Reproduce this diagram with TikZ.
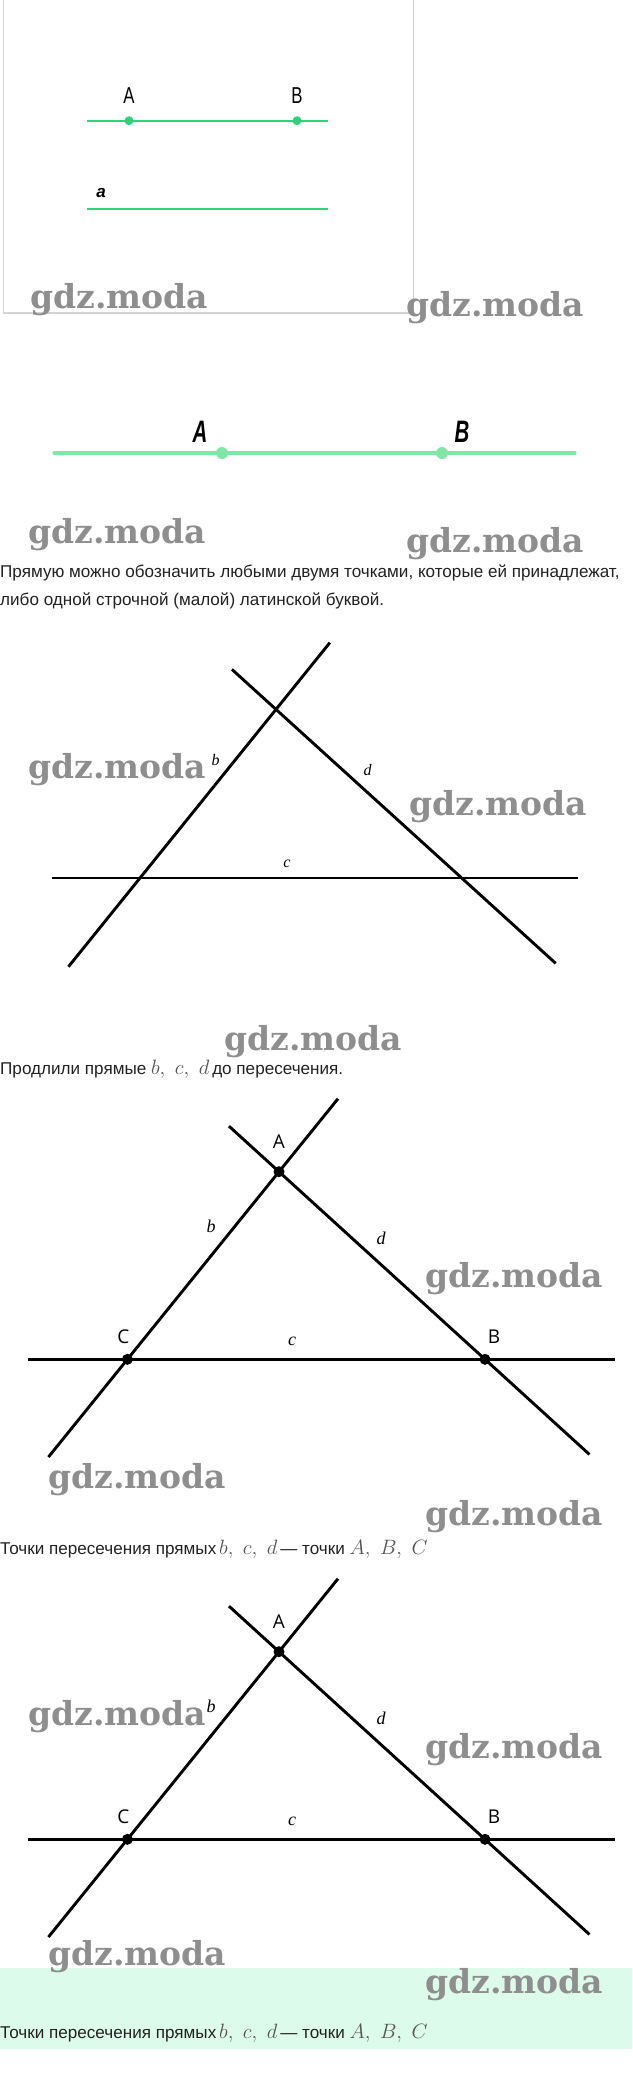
\documentclass[tikz,border=0pt]{standalone}
\usepackage{fontspec}
\setmainfont{Liberation Sans}
\newfontfamily\narrowfont[FakeStretch=0.73]{Liberation Sans}
\newfontfamily\narrowbifont[FakeStretch=0.66]{Liberation Sans Bold Italic}
\newfontfamily\serifitfont{Liberation Serif Italic}
\newfontfamily\ptfont{Open Sans}
\newfontfamily\wmfont{DejaVu Serif Bold}
\usetikzlibrary{positioning}
\usetikzlibrary{calc}

\definecolor{lineGreen}{HTML}{2ED47B}
\definecolor{paleGreen}{HTML}{7FE6A6}
\definecolor{bandGreen}{HTML}{DDFBEA}
\definecolor{wmGray}{HTML}{8E8E8E}
\definecolor{frameGray}{HTML}{D4D4D4}
\definecolor{textGray}{HTML}{222222}
\definecolor{mathGray}{HTML}{555555}

\begin{document}
\begin{tikzpicture}[x=1pt, y=-1pt,
    greenline/.style={draw=lineGreen, line width=2.4pt},
    paleline/.style={draw=paleGreen, line width=3.2pt, line cap=round},
    blackline/.style={draw=black, line width=2.9pt},
    greendot/.style={circle, fill=lineGreen, inner sep=0pt, minimum size=9pt},
    paledot/.style={circle, fill=paleGreen, inner sep=0pt, minimum size=12pt},
    blackdot/.style={circle, fill=black, inner sep=0pt, minimum size=11pt},
    narrowlabel/.style={inner sep=0pt, font=\narrowfont\fontsize{23}{23}\selectfont},
    bilabel/.style={inner sep=0pt, anchor=base, font=\narrowbifont\fontsize{31}{31}\selectfont},
    ptlabel/.style={inner sep=0pt, font=\ptfont\fontsize{19}{19}\selectfont},
    linelabel/.style={inner sep=0pt, font=\serifitfont\fontsize{16}{16}\selectfont},
    caption/.style={inner sep=0pt, anchor=base west, text=textGray, font=\fontsize{17.1}{17.1}\selectfont},
    wmark/.style={inner sep=0pt, anchor=base west, text=wmGray, font=\wmfont\fontsize{33}{33}\selectfont},
  ]
  \useasboundingbox (0,0) rectangle (632,2085);
  \fill[white] (0,0) rectangle (632,2085);
  \fill[bandGreen] (0,1968) rectangle (632,2049);

  %Frame
  \draw[frameGray, line width=1pt] (3,0) -- (3,313) (413,313) -- (413,0);
  \draw[frameGray, line width=2.5pt] (3,313) -- (413,313);

  %Nodes (first picture)
  \node[greendot] (A1) at (129,120.7) {};
  \node[greendot] (B1) at (297,120.7) {};
  \node[narrowlabel] (labA1) [above=12.5pt of A1] {A};
  \node[narrowlabel] (labB1) [above=12.5pt of B1] {B};
  \coordinate (ab1L) at (87,120.7);
  \coordinate (ab1R) at (328,120.7);
  \coordinate (a1L) at (87,209);
  \coordinate (a1R) at (328,209);
  \node[inner sep=0pt, font=\bfseries\itshape\fontsize{17}{17}\selectfont] (laba) at (101,193) {a};

  %Lines (first picture)
  \draw[greenline] (ab1L) -- (ab1R);
  \draw[greenline] (a1L) -- (a1R);

  %Nodes (second picture)
  \node[paledot] (A2) at (222,453) {};
  \node[paledot] (B2) at (442,453) {};
  \node[bilabel] (labA2) at (200,442) {A};
  \node[bilabel] (labB2) at (462,442) {B};
  \coordinate (ab2L) at (54,453);
  \coordinate (ab2R) at (575,453);

  %Lines (second picture)
  \draw[paleline] (ab2L) -- (ab2R);

  \node[caption] (cap2a) at (0,577) {Прямую можно обозначить любыми двумя точками, которые ей принадлежат,};
  \node[caption] (cap2b) at (0,605) {либо одной строчной (малой) латинской буквой.};

  %Nodes (third picture)
  \coordinate (P) at (276,709.4);
  \coordinate (Q) at (140,878);
  \coordinate (R) at (461.7,878);
  \node[linelabel] (labb3) at (215.7,760) {b};
  \node[linelabel] (labd3) at (367.7,770) {d};
  \node[linelabel] (labc3) at (287,864) {c};

  %Lines (third picture)
  \draw[blackline] ($(Q)!-0.526!(P)$) -- ($(P)!-0.396!(Q)$);
  \draw[blackline] ($(P)!-0.2375!(R)$) -- ($(R)!-0.506!(P)$);
  \draw[blackline] ($(Q)!-0.275!(R)$) -- ($(R)!-0.363!(Q)$);

  \node[caption] (cap3) at (0,1074) {Продлили прямые {\color{mathGray}\fontsize{22}{22}\selectfont$b,\ c,\ d$}\,до пересечения.};

  %Nodes and lines (fourth and fifth picture)
  \foreach \dy/\n in {0/4, 480/5} {
    \begin{scope}[shift={(0,\dy)}]
      \node[blackdot] (A\n) at (279,1171.7) {};
      \node[blackdot] (B\n) at (485,1359.3) {};
      \node[blackdot] (C\n) at (127.4,1359.3) {};
      \node[ptlabel] (labA\n) [above=17pt of A\n] {A};
      \node[ptlabel] (labB\n) [above=10pt of B\n, xshift=9pt] {B};
      \node[ptlabel] (labC\n) [above=10pt of C\n, xshift=-4pt] {C};
      \node[linelabel, font=\serifitfont\fontsize{18}{18}\selectfont] (labb\n) at (211,1226.7) {b};
      \node[linelabel, font=\serifitfont\fontsize{18}{18}\selectfont] (labd\n) at (381,1238.3) {d};
      \node[linelabel, font=\serifitfont\fontsize{18}{18}\selectfont] (labc\n) at (292,1341.7) {c};
      \draw[blackline] ($(C\n)!-0.521!(A\n)$) -- ($(A\n)!-0.389!(C\n)$);
      \draw[blackline] ($(A\n)!-0.243!(B\n)$) -- ($(B\n)!-0.507!(A\n)$);
      \draw[blackline] ($(C\n)!-0.277!(B\n)$) -- ($(B\n)!-0.364!(C\n)$);
    \end{scope}
  }

  \node[caption] (cap4) at (0,1554) {Точки пересечения прямых\,{\color{mathGray}\fontsize{22}{22}\selectfont$b,\ c,\ d$}\,— точки {\color{mathGray}\fontsize{22}{22}\selectfont$A,\ B,\ C$}};
  \node[caption] (cap5) at (0,2038) {Точки пересечения прямых\,{\color{mathGray}\fontsize{22}{22}\selectfont$b,\ c,\ d$}\,— точки {\color{mathGray}\fontsize{22}{22}\selectfont$A,\ B,\ C$}};

  %Watermarks
  \node[wmark] (wm1) at (30,308) {gdz.moda};
  \node[wmark] (wm2) at (406,316) {gdz.moda};
  \node[wmark] (wm3) at (28,543) {gdz.moda};
  \node[wmark] (wm4) at (406,552) {gdz.moda};
  \node[wmark] (wm5) at (28,778) {gdz.moda};
  \node[wmark] (wm6) at (409,815) {gdz.moda};
  \node[wmark] (wm7) at (224,1050) {gdz.moda};
  \node[wmark] (wm8) at (425,1287) {gdz.moda};
  \node[wmark] (wm9) at (48,1488) {gdz.moda};
  \node[wmark] (wm10) at (425,1525) {gdz.moda};
  \node[wmark] (wm11) at (28,1725) {gdz.moda};
  \node[wmark] (wm12) at (425,1758) {gdz.moda};
  \node[wmark] (wm13) at (48,1965) {gdz.moda};
  \node[wmark] (wm14) at (425,1993) {gdz.moda};
\end{tikzpicture}
\end{document}
